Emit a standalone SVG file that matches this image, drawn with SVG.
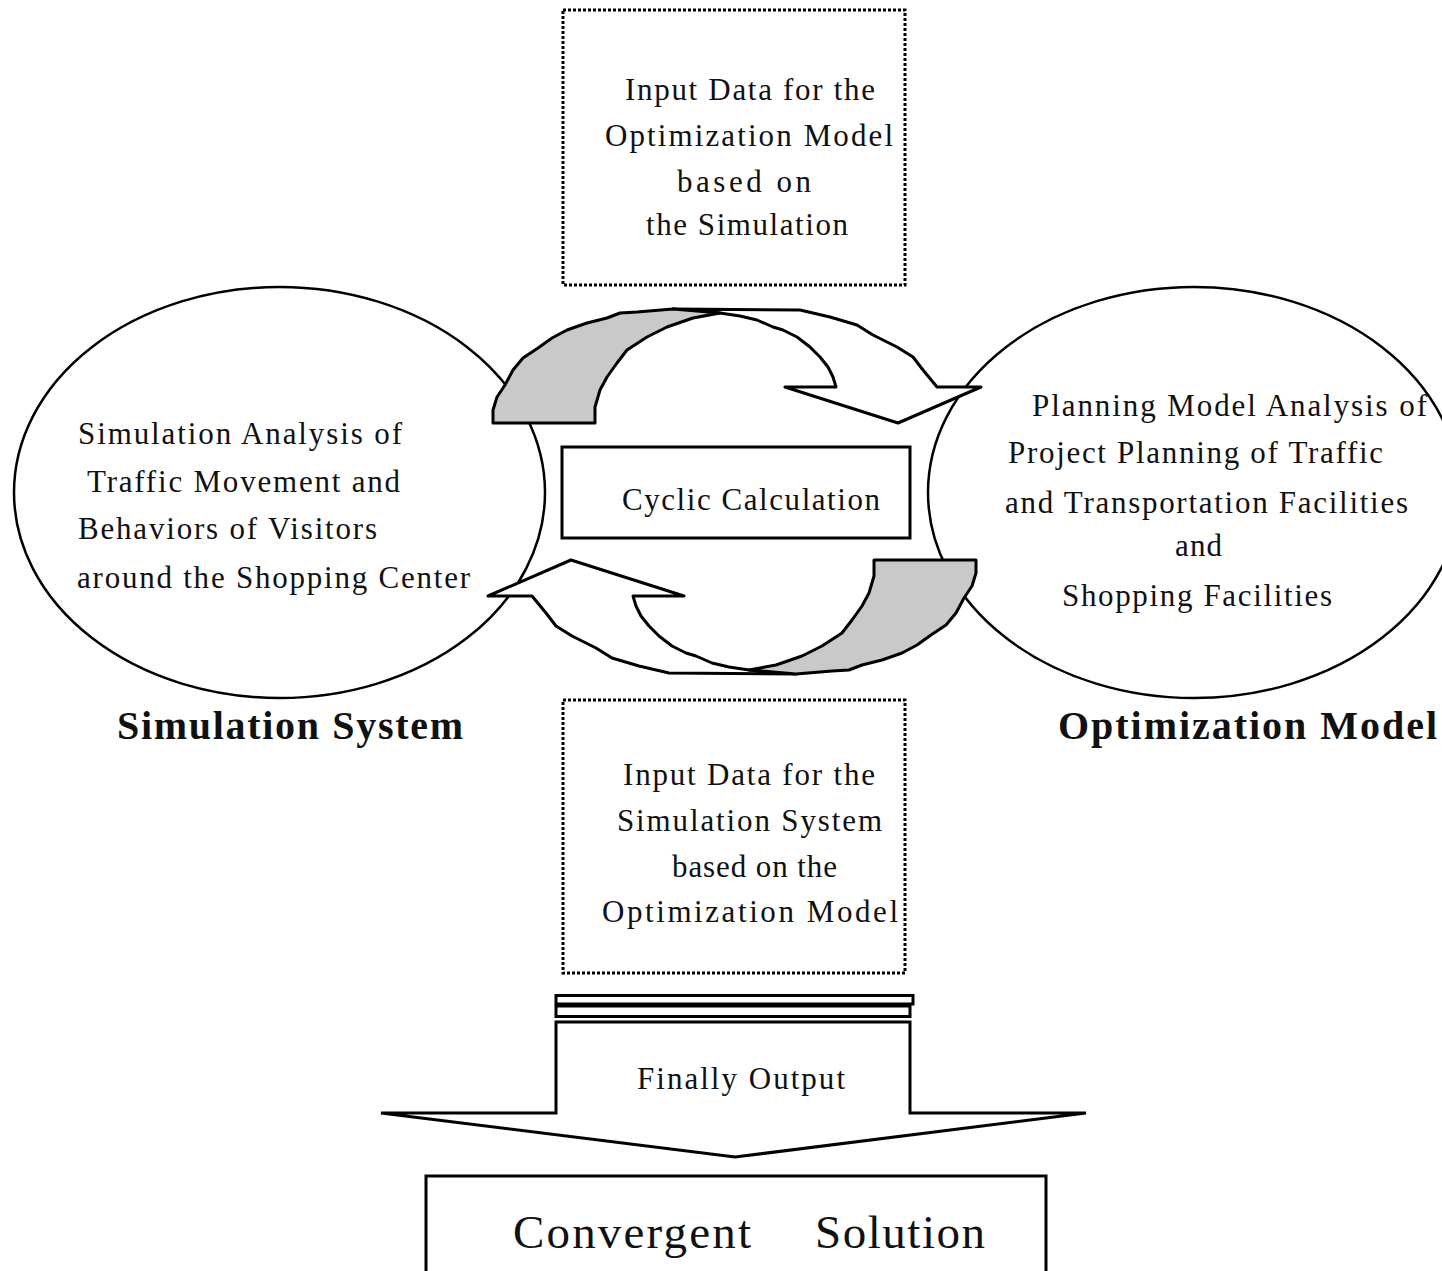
<svg xmlns="http://www.w3.org/2000/svg" xmlns:xlink="http://www.w3.org/1999/xlink" width="1442" height="1271" viewBox="0 0 1442 1271">
<style>
.t{font-family:"Liberation Serif","Times New Roman",serif;font-size:31px;fill:#111}
.b{font-family:"Liberation Serif","Times New Roman",serif;font-size:40px;font-weight:bold;fill:#111}
.big{font-family:"Liberation Serif","Times New Roman",serif;font-size:47px;fill:#111}
.ell{fill:#fff;stroke:#000;stroke-width:2.5}
.dot{fill:#fff;stroke:#000;stroke-width:3;stroke-dasharray:3 2}
.sol{fill:#fff;stroke:#000;stroke-width:3;stroke-linejoin:miter}
.arw{fill:#fff;stroke:#000;stroke-width:3;stroke-linejoin:round}
.gry{fill:#c9c9c9;stroke:#000;stroke-width:3;stroke-linejoin:round}
</style>
<defs>
<g id="cyc">
<path class="arw" d="M673,309 L800,310 L830,317 L857,325 L873,335 L897,347 L913,357 L923,370 L937,387 L981,387 L898,423 L785,387 L836,387 L833,377 L828,367 L820,357 L810,347 L797,337 L783,330 L773,327 L757,320 L740,316 L720,313 Z"/>
<path class="gry" d="M493,423 L493,410 L497,397 L505,385 L513,370 L523,358 L538,348 L552,338 L567,330 L587,323 L607,318 L620,313 L637,312 L673,309 L720,313 L693,318 L667,327 L647,337 L627,350 L617,363 L607,377 L600,390 L595,407 L595,423 Z"/>
</g>
</defs>
<rect width="1442" height="1271" fill="#fff"/>

<g id="simulation-system">
<ellipse class="ell" cx="279.5" cy="492.5" rx="265.5" ry="205.5"/>
<text class="t" x="78" y="444" textLength="324" lengthAdjust="spacing">Simulation Analysis of</text>
<text class="t" x="87" y="492" textLength="313" lengthAdjust="spacing">Traffic Movement and</text>
<text class="t" x="78" y="539" textLength="299" lengthAdjust="spacing">Behaviors of Visitors</text>
<text class="t" x="77" y="588" textLength="393" lengthAdjust="spacing">around the Shopping Center</text>
<text class="b" x="117" y="739" textLength="346" lengthAdjust="spacing">Simulation System</text>
</g>

<g id="optimization-model">
<ellipse class="ell" cx="1194" cy="492.5" rx="266" ry="205.5"/>
<text class="t" x="1032" y="416" textLength="395" lengthAdjust="spacing">Planning Model Analysis of</text>
<text class="t" x="1008" y="463" textLength="375" lengthAdjust="spacing">Project Planning of Traffic</text>
<text class="t" x="1005" y="513" textLength="403" lengthAdjust="spacing">and Transportation Facilities</text>
<text class="t" x="1175" y="556" textLength="47" lengthAdjust="spacing">and</text>
<text class="t" x="1062" y="606" textLength="270" lengthAdjust="spacing">Shopping Facilities</text>
<text class="b" x="1058" y="739" textLength="379" lengthAdjust="spacing">Optimization Model</text>
</g>

<g id="input-optimization">
<rect class="dot" x="563" y="10" width="342" height="275"/>
<text class="t" x="625" y="100" textLength="250" lengthAdjust="spacing">Input Data for the</text>
<text class="t" x="605" y="146" textLength="288" lengthAdjust="spacing">Optimization Model</text>
<text class="t" x="677" y="192" textLength="134" lengthAdjust="spacing">based on</text>
<text class="t" x="646" y="235" textLength="202" lengthAdjust="spacing">the Simulation</text>
</g>

<g id="input-simulation">
<rect class="dot" x="563" y="700" width="342" height="273"/>
<text class="t" x="623" y="785" textLength="252" lengthAdjust="spacing">Input Data for the</text>
<text class="t" x="617" y="831" textLength="265" lengthAdjust="spacing">Simulation System</text>
<text class="t" x="672" y="877" textLength="165" lengthAdjust="spacing">based on the</text>
<text class="t" x="602" y="922" textLength="296" lengthAdjust="spacing">Optimization Model</text>
</g>

<g id="connectors">
<use xlink:href="#cyc" href="#cyc"/>
<use xlink:href="#cyc" href="#cyc" transform="rotate(180 734.5 491.5)"/>
<rect class="sol" x="556" y="995.5" width="357" height="8.5"/>
<rect class="sol" x="556" y="1006" width="354" height="10.5"/>
<path class="sol" d="M556,1022 H910 V1113 H1086 L735,1157 L381,1113 H556 Z"/>
<text class="t" x="637" y="1089" textLength="208" lengthAdjust="spacing">Finally Output</text>
</g>

<g id="cyclic-calculation">
<rect class="sol" x="562" y="447" width="348" height="91"/>
<text class="t" x="622" y="510" font-size="34" textLength="258" lengthAdjust="spacing">Cyclic Calculation</text>
</g>

<g id="convergent-solution">
<rect class="sol" x="426" y="1176" width="620" height="110"/>
<text class="big" x="513" y="1248" textLength="238" lengthAdjust="spacing">Convergent</text>
<text class="big" x="815" y="1248" textLength="170" lengthAdjust="spacing">Solution</text>
</g>
</svg>
